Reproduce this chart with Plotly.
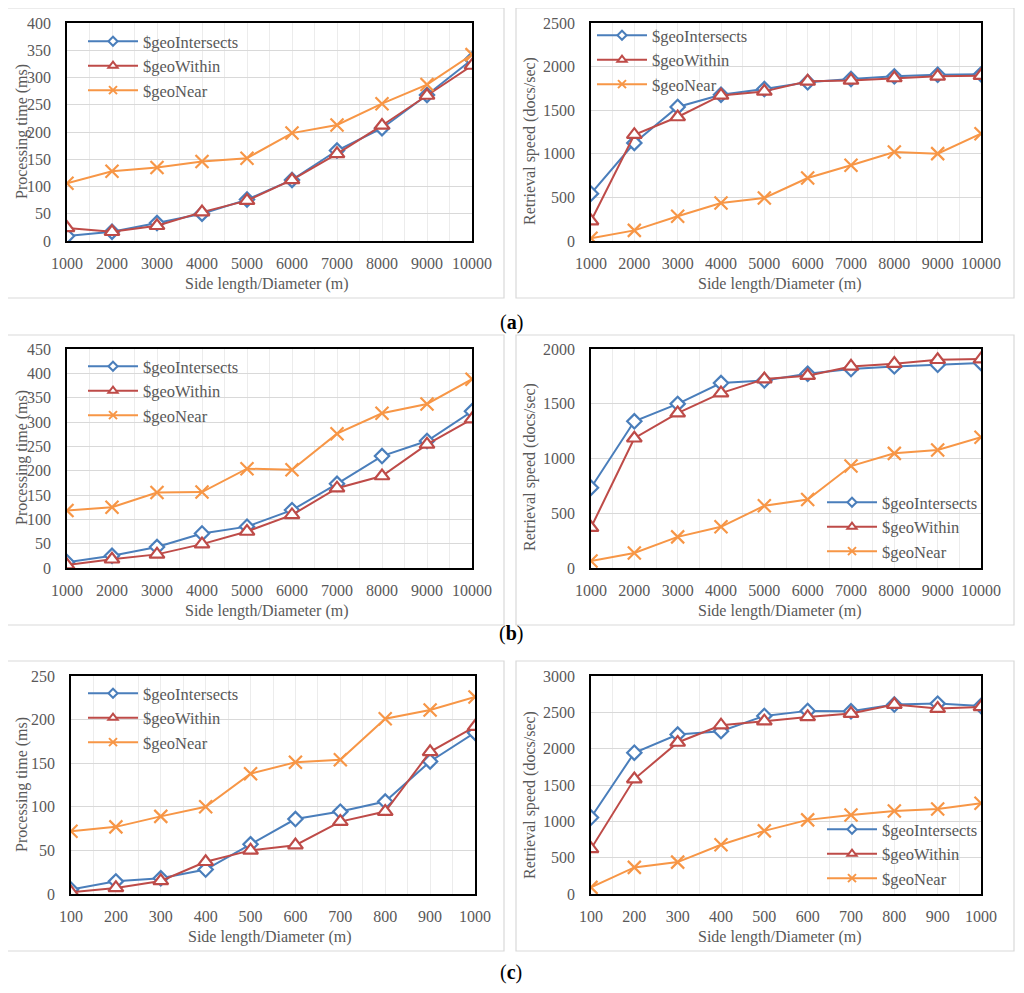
import plotly.graph_objects as go

# ---------------- data ----------------
x_big = [1000, 2000, 3000, 4000, 5000, 6000, 7000, 8000, 9000, 10000]
x_small = [100, 200, 300, 400, 500, 600, 700, 800, 900, 1000]
series_names = ["$geoIntersects", "$geoWithin", "$geoNear"]

# (a) processing time
a_time_intersects = [9, 17, 33, 50, 76, 112, 166, 207, 268, 333]
a_time_within = [24, 17, 28, 53, 74, 112, 160, 212, 267, 322]
a_time_near = [106, 128, 135, 146, 152, 198, 213, 252, 287, 342]
# (a) retrieval speed
a_speed_intersects = [543, 1124, 1537, 1678, 1743, 1820, 1858, 1888, 1907, 1911]
a_speed_within = [229, 1219, 1422, 1670, 1716, 1831, 1842, 1869, 1888, 1896]
a_speed_near = [31, 122, 283, 436, 493, 722, 868, 1021, 1002, 1231]

# (b) processing time
b_time_intersects = [12, 25, 43, 71, 85, 119, 173, 230, 261, 322]
b_time_within = [6, 18, 28, 49, 75, 109, 164, 189, 254, 306]
b_time_near = [118, 125, 155, 156, 204, 202, 276, 318, 337, 388]
# (b) retrieval speed
b_speed_intersects = [733, 1340, 1499, 1689, 1713, 1774, 1817, 1841, 1856, 1872]
b_speed_within = [369, 1185, 1414, 1597, 1725, 1756, 1841, 1866, 1902, 1908]
b_speed_near = [64, 137, 284, 376, 568, 626, 931, 1047, 1078, 1194]

# (c) processing time
c_time_intersects = [5, 14.5, 18, 28, 57, 86, 94.5, 106, 152, 185]
c_time_within = [2, 7, 15, 37, 50, 56, 83, 94.5, 163, 192]
c_time_near = [72, 77, 89, 100, 138, 151, 154, 201, 211, 226]
# (c) retrieval speed
c_speed_intersects = [1052, 1944, 2195, 2241, 2451, 2520, 2515, 2607, 2620, 2588]
c_speed_within = [622, 1582, 2085, 2323, 2378, 2437, 2483, 2607, 2552, 2575]
c_speed_near = [91, 366, 439, 677, 869, 1020, 1088, 1143, 1171, 1248]

y_title_time = "Processing time (ms)"
y_title_speed = "Retrieval speed (docs/sec)"
x_title = "Side length/Diameter (m)"
panel_labels = ["a", "b", "c"]

# ---------------- styling ----------------
OFF = 8                      # page body margin of the browser
W, H = 1024 - OFF, 993 - OFF
FONT = "Liberation Serif"
GRAY = "#595959"
COLORS = ["#4a7ebb", "#be4b48", "#f79646"]
SYMBOLS = ["diamond", "triangle-up", "x-thin"]
SIZES = [11, 13, 13]
LEG_SIZES = [7, 8, 8]

def px_x(p):
    return (p - OFF) / W

def px_y(p):
    return 1 - (p - OFF) / H

panels = [
    # data, ytitle, ymax, dtick, x-dom px, y-dom px, legend pos px, legend-white-box fractions,
    # x-title (cx, cy), y-title (cx, cy)
    (x_big, [a_time_intersects, a_time_within, a_time_near], y_title_time, 400, 50,
     (67, 472), (23, 241), (83, 24), None, (267, 284), (22, 132)),
    (x_big, [a_speed_intersects, a_speed_within, a_speed_near], y_title_speed, 2500, 500,
     (591, 981), (23, 241), (592, 18), None, (780, 284), (530, 141)),
    (x_big, [b_time_intersects, b_time_within, b_time_near], y_title_time, 450, 50,
     (67, 472), (349, 568), (83, 349), None, (267, 611), (22, 458)),
    (x_big, [b_speed_intersects, b_speed_within, b_speed_near], y_title_speed, 2000, 500,
     (591, 981), (349, 568), (822, 485), (0.6, 0.345), (780, 611), (530, 467)),
    (x_small, [c_time_intersects, c_time_within, c_time_near], y_title_time, 250, 50,
     (71, 475), (676, 894), (83, 676), None, (270, 937), (22, 785)),
    (x_small, [c_speed_intersects, c_speed_within, c_speed_near], y_title_speed, 3000, 500,
     (591, 981), (676, 894), (822, 812), (0.6, 0.335), (780, 937), (530, 795)),
]

fig = go.Figure()
layout = dict(
    width=W, height=H, autosize=False,
    margin=dict(l=0, r=0, t=0, b=0, pad=0),
    paper_bgcolor="white", plot_bgcolor="white",
    font=dict(family=FONT, size=15, color=GRAY),
    shapes=[], annotations=[],
)

for i, (xd, ys, ytitle, ymax, dt, xdom, ydom, lpos, wbox, xt, yt) in enumerate(panels):
    n = i + 1
    xa = "x" if n == 1 else f"x{n}"
    ya = "y" if n == 1 else f"y{n}"
    leg = "legend" if n == 1 else f"legend{n}"
    for k in range(3):
        fig.add_trace(go.Scatter(
            x=xd, y=ys[k], name=series_names[k], mode="lines+markers",
            xaxis=xa, yaxis=ya, showlegend=False,
            line=dict(color=COLORS[k], width=2),
            marker=dict(symbol=SYMBOLS[k], size=SIZES[k],
                        color="white" if k < 2 else COLORS[k],
                        line=dict(color=COLORS[k], width=2.2)),
        ))
    for k in range(3):
        # legend-only entries with small markers (like the original legend keys)
        fig.add_trace(go.Scatter(
            x=[None], y=[None], name=series_names[k], mode="lines+markers",
            xaxis=xa, yaxis=ya, legend=leg, showlegend=True,
            line=dict(color=COLORS[k], width=2),
            marker=dict(symbol=SYMBOLS[k], size=LEG_SIZES[k],
                        color="white" if k < 2 else COLORS[k],
                        line=dict(color=COLORS[k], width=2)),
        ))
    xkey = "xaxis" if n == 1 else f"xaxis{n}"
    ykey = "yaxis" if n == 1 else f"yaxis{n}"
    step = xd[1] - xd[0]
    layout[xkey] = dict(
        domain=[px_x(xdom[0]), px_x(xdom[1])], anchor=ya,
        range=[xd[0], xd[-1]], tickmode="array", tickvals=xd,
        ticktext=[str(v) for v in xd],
        showgrid=True, gridcolor="#ececec", gridwidth=1,
        minor=dict(dtick=step / 2, tick0=xd[0], showgrid=True, gridcolor="#ececec", gridwidth=1),
        showline=True, mirror=True, linecolor="black", linewidth=1.5,
        ticks="", ticklabelstandoff=7,
        tickfont=dict(family=FONT, size=16, color=GRAY),
        automargin=False, zeroline=False, fixedrange=True,
    )
    layout[ykey] = dict(
        domain=[px_y(ydom[1]), px_y(ydom[0])], anchor=xa,
        range=[0, ymax], dtick=dt, tick0=0,
        showgrid=True, gridcolor="#d9d9d9", gridwidth=1.3,
        showline=True, mirror=True, linecolor="black", linewidth=1.5,
        ticks="", ticklabelstandoff=11,
        tickfont=dict(family=FONT, size=16, color=GRAY),
        automargin=False, zeroline=False, fixedrange=True,
    )
    layout[leg] = dict(
        x=px_x(lpos[0]), y=px_y(lpos[1]), xanchor="left", yanchor="top",
        bgcolor="rgba(255,255,255,0)", borderwidth=0,
        font=dict(family=FONT, size=16.5, color=GRAY),
        tracegroupgap=0, itemwidth=50,
    )
    if wbox is not None:
        # white legend background: above gridlines, under the data lines
        span = xd[-1] - xd[0]
        layout["shapes"].append(dict(
            type="rect", xref=xa, yref=ya, layer="below",
            x0=xd[0] + wbox[0] * span, x1=xd[-1] - 0.004 * span,
            y0=ymax * 0.006, y1=ymax * wbox[1],
            line=dict(width=0), fillcolor="white",
        ))
    layout["annotations"].append(dict(
        text=x_title, xref="paper", yref="paper", x=px_x(xt[0]), y=px_y(xt[1]),
        showarrow=False, xanchor="center", yanchor="middle",
        font=dict(family=FONT, size=16, color=GRAY),
    ))
    layout["annotations"].append(dict(
        text=ytitle, xref="paper", yref="paper", x=px_x(yt[0]), y=px_y(yt[1]),
        showarrow=False, xanchor="center", yanchor="middle", textangle=-90,
        font=dict(family=FONT, size=16, color=GRAY),
    ))

# chart-area boxes (light gray frames around each chart)
boxes_px = [
    (7, 8, 504, 298), (516, 8, 1014, 298),
    (7, 335, 504, 625), (516, 335, 1014, 625),
    (7, 661, 504, 951), (516, 661, 1014, 951),
]
for (x0, y0, x1, y1) in boxes_px:
    layout["shapes"].append(dict(
        type="rect", xref="paper", yref="paper", layer="below",
        x0=px_x(x0), x1=px_x(x1), y0=px_y(y1), y1=px_y(y0),
        line=dict(color="#d9d9d9", width=1.2), fillcolor="rgba(0,0,0,0)",
    ))

for lbl, ypx in zip(panel_labels, [322, 633, 972]):
    layout["annotations"].append(dict(
        text="(<b>" + lbl + "</b>)", xref="paper", yref="paper",
        x=px_x(511), y=px_y(ypx), showarrow=False,
        font=dict(family=FONT, size=20, color="black"),
        xanchor="center", yanchor="middle",
    ))

fig.update_layout(**layout)
fig.write_html("out.html")
